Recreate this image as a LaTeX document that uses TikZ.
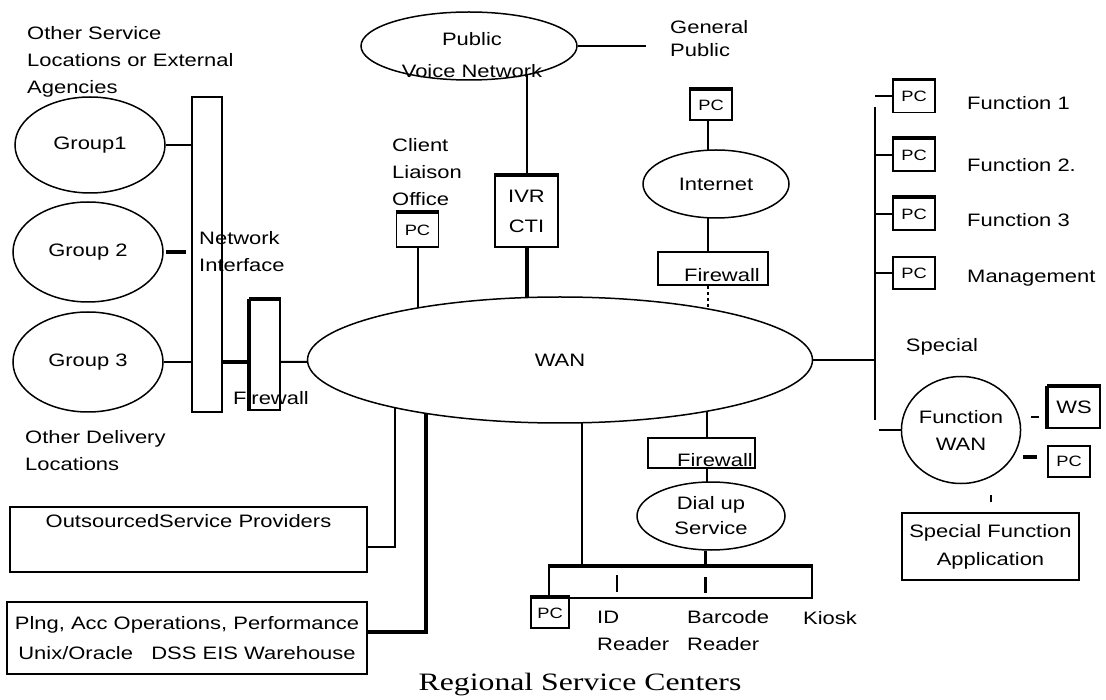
\documentclass[tikz,border=0pt]{standalone}
\usepackage{fontspec}
\setmainfont[FakeStretch=1.22]{Liberation Sans}
\newfontfamily\serifwide[FakeStretch=1.27]{Liberation Serif}
\usetikzlibrary{shapes.geometric, positioning, backgrounds}

\newcommand{\lbl}{\fontsize{18}{27}\selectfont}
\newcommand{\pcfont}{\fontsize{15}{18}\selectfont}

\tikzset{
  net/.style={ellipse, draw, fill=white, line width=1.5pt, inner sep=0pt, font=\lbl, align=center},
  box/.style={rectangle, draw, fill=white, line width=1.8pt, inner sep=0pt, font=\lbl, align=center},
  pcbox/.style={box, minimum width=42, minimum height=32, font=\pcfont},
  txt/.style={inner sep=0pt, font=\lbl, align=left},
  link/.style={line width=2pt},
  heavy/.style={line width=4pt},
  topline/.style={line width=3.5pt},
}

\begin{document}
\begin{tikzpicture}[x=1pt, y=-1pt]
\useasboundingbox (0,0) rectangle (1106,700);

% Other service locations
\node[txt, anchor=west] (extlbl) at (27,62) {Other Service\\Locations or External\\Agencies};
\node[net, minimum width=150, minimum height=96] (g1) at (90,145) {Group1};
\node[net, minimum width=150, minimum height=100] (g2) at (88,252) {Group 2};
\node[net, minimum width=150, minimum height=100] (g3) at (88,362) {Group 3};
\node[txt, anchor=west] (delivlbl) at (25,451) {Other Delivery\\Locations};

% Network interface and firewall
\node[box, minimum width=30, minimum height=315] (ni) at (207,254.5) {};
\node[txt, anchor=west] (nilbl) at (199,252) {Network\\Interface};
\node[box, minimum width=30, minimum height=110] (fwl) at (265,355) {};
\node[txt] (fwllbl) at (271,398) {Firewall};

% WAN
\node[net, minimum width=505, minimum height=126] (wan) at (560,360) {WAN};

% Public voice network and IVR
\node[net, minimum width=216, minimum height=68] (pvn) at (469,46) {};
\node[txt, align=center] (pvnlbl) at (472,55) {Public\\[5pt]Voice Network};
\node[box, minimum width=63, minimum height=71] (ivr) at (526.5,211.5) {IVR\\[3pt]CTI};

% Client liaison office
\node[txt, anchor=west] (clientlbl) at (392,172) {Client\\Liaison\\Office};
\node[pcbox, minimum height=34] (cpc) at (417.5,230) {PC};

% General public and internet
\node[txt, anchor=west] (gplbl) at (670,39) {General\\[-4pt]Public};
\node[pcbox, minimum height=30] (gpc) at (711,105) {PC};
\node[net, minimum width=146, minimum height=68] (inet) at (716,184) {Internet};
\node[box, minimum width=110, minimum height=33] (fwt) at (713,268.5) {};
\node[txt] (fwtlbl) at (722,275) {Firewall};

% Dial up
\node[box, minimum width=107, minimum height=30] (fwd) at (701.5,453) {};
\node[txt] (fwdlbl) at (715,460) {Firewall};
\node[net, minimum width=148, minimum height=68] (dial) at (711,516) {Dial up\\[-2pt]Service};

% Regional service centers
\node[box, minimum width=263, minimum height=31] (bar) at (680.5,582.5) {};
\node[pcbox, minimum width=38, minimum height=30] (rpc) at (550,613) {PC};
\node[txt, anchor=west] (idr) at (597,631) {ID\\Reader};
\node[txt, anchor=west] (bcr) at (687,631) {Barcode\\Reader};
\node[txt, anchor=west] (kiosk) at (803,618) {Kiosk};
\node[font=\serifwide\fontsize{25}{30}\selectfont, inner sep=0pt] (rsc) at (580,685) {Regional Service Centers};
\draw[link] ([xshift=-63.5,yshift=7.5]bar.center) -- ++(0,17);
\draw[line width=3pt] ([xshift=24.5,yshift=5.5]bar.center) -- ++(0,16);

% Bottom left boxes
\node[box, minimum width=357, minimum height=65] (osp) at (188.5,539.5) {OutsourcedService Providers\\[10pt]};
\node[box, minimum width=360, minimum height=72] (plng) at (187,638) {Plng, Acc Operations, Performance\\[3pt]Unix/Oracle\ \ \ DSS EIS Warehouse};

% Function PCs
\coordinate (bt) at (875,107);
\coordinate (bb) at (875,420);
\foreach \i/\y/\ly/\f in {1/96.5/103/Function 1, 2/155/165/Function 2., 3/214/220/Function 3, 4/273/278/Management}
{
    \node[pcbox, minimum height=32] (pf\i) at (914,\y) {PC};
    \node[txt, anchor=west] (fl\i) at (967,\ly) {\f};
}

% Special function WAN
\node[txt] (speclbl) at (942,347) {Special};
\node[net, minimum width=118, minimum height=107] (fwan) at (961,430) {Function\\WAN};
\node[pcbox, minimum width=52, minimum height=41] (ws) at (1074,407.5) {\lbl WS};
\node[pcbox, minimum width=42, minimum height=31] (spc) at (1069,461.5) {PC};
\node[box, minimum width=177, minimum height=67] (sfa) at (990.5,546.5) {Special Function\\[1pt]Application};

% Heavy top edges
\foreach \n in {cpc, gpc, ivr, fwl, bar, rpc, pf1, pf2, pf3, ws}
{
    \draw[topline] (\n.north west) -- (\n.north east);
}
\draw[topline] (fwl.north west) -- (fwl.south west);
\draw[topline] (ws.north west) -- (ws.south west);

\begin{pgfonlayer}{background}
% Left side links
\draw[link] (g1.east) -- (g1.east -| ni.west);
\draw[heavy] ([xshift=2]g2.east) -- ([xshift=-5]g2.east -| ni.west);
\draw[link] (g3.east) -- (g3.east -| ni.west);
\draw[heavy] (g3.east -| ni.east) -- (g3.east -| fwl.west);
\draw[link] (g3.east -| fwl.east) -- (wan.center);

% Bottom left links
\draw[link] ([yshift=-7]osp.east) -| ([xshift=-165]wan.center);
\draw[heavy] ([yshift=6]plng.east) -| ([xshift=-134]wan.center);

% Upper links
\draw[link] (ivr.north) -- (ivr.north |- pvn.center);
\draw[link] (pvn.east) -- ++(68,0);
\draw[heavy] (ivr.south) -- (ivr.south |- wan.center);
\draw[link] (cpc.south) -- (cpc.south |- wan.center);
\draw[link] ([xshift=-3]gpc.south) -- ([xshift=-3]gpc.south |- inet.center);
\draw[link] ([xshift=-5]fwt.north) -- ([xshift=-5]fwt.north |- inet.center);
\draw[link, dashed] ([xshift=-5]fwt.south) -- ([xshift=-5]fwt.south |- wan.center);

% Lower links
\draw[link] ([xshift=5]fwd.north) -- ([xshift=5]fwd.north |- wan.center);
\draw[link] ([xshift=5]fwd.south) -- ([xshift=5]fwd.south |- dial.center);
\draw[line width=3pt] ([xshift=-6]dial.south) -- ([xshift=-6]dial.south |- bar.north);
\draw[link] ([xshift=-98.5]bar.north) -- ([xshift=-98.5]bar.north |- wan.center);

% Function bus
\draw[link] (wan.east) -- (wan.east -| bt);
\draw[link] (bt) -- (bb);
\foreach \i in {1,...,4}
{
    \draw[link] (pf\i.west) -- (pf\i.west -| bt);
}
\draw[link] (fwan.west) -- ++(-22,0);
\draw[link] ([xshift=-8,yshift=-10]ws.west) -- ++(-8,0);
\draw[heavy] ([xshift=-10,yshift=5]spc.west) -- ++(-14,0);
\draw[link] ([yshift=10]sfa.north) -- ++(0,-7);
\end{pgfonlayer}

\end{tikzpicture}
\end{document}
